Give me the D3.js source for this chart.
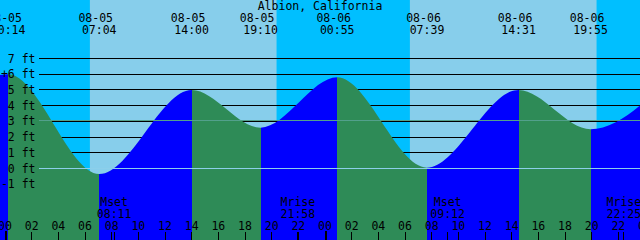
<!DOCTYPE html>
<html>
<head>
<meta charset="utf-8">
<script src="https://cdn.jsdelivr.net/npm/d3@7"></script>
<style>
html, body { margin: 0; padding: 0; background: #fff; }
svg { display: block; }
text { font-family: "DejaVu Sans Mono", monospace; font-size: 11.5px; fill: #000; }
</style>
</head>
<body>
<svg class="grafico" width="640" height="240"></svg>
<script>
const title = "Albion, California"

// pleamar / bajamar (incluye una antes y una despues de la ventana para la forma de la curva)
const tideTimes = ["08-04 18:20", "08-05 00:14", "08-05 07:04", "08-05 14:00", "08-05 19:10",
                   "08-06 00:55", "08-06 07:39", "08-06 14:31", "08-06 19:55", "08-07 01:35"]
const tideHeights = [2.5, 6.0, -0.35, 5.0, 2.6, 5.8, 0.05, 5.0, 2.5, 5.5]

const sunRise = ["08-05 06:22", "08-06 06:22"]
const sunSet = ["08-05 20:22", "08-06 20:22"]

const moonNames = ["Mset", "Mrise", "Mset", "Mrise"]
const moonTimes = ["08-05 08:11", "08-05 21:58", "08-06 09:12", "08-06 22:25"]

const feet = [-1, 0, 1, 2, 3, 4, 5, 6, 7]
const feetLabels = ["-1 ft", "0 ft", "1 ft", "2 ft", "3 ft", "4 ft", "5 ft", "+6 ft", "7 ft"]
const hourTicks = d3.range(0, 49, 2)
const msl = 3.05

// "08-05 07:04" -> horas desde 08-05 00:00
const hours = s => {
  const [md, hm] = s.split(" ")
  const day = +md.split("-")[1]
  const [h, m] = hm.split(":").map(Number)
  return (day - 5) * 24 + h + m / 60
}

const W = 640, H = 240
const x = d3.scaleLinear().domain([-0.375, 47.625]).range([0, W])
const y = d3.scaleLinear().domain([0, 7]).range([168.5, 58.5])
const snap = v => Math.round(v - 0.5) + 0.5

const tides = tideTimes.map((t, i) => ({ t: hours(t), h: tideHeights[i], label: t }))
const svg = d3.select('.grafico')

// cielo: noche de fondo, dia encima
svg.append('rect').attr('width', W).attr('height', H).attr('fill', '#00bfff')
svg.append('g').selectAll('rect')
  .data(sunRise.map((r, i) => [hours(r), hours(sunSet[i])]))
  .join('rect')
  .attr('x', d => x(d[0])).attr('width', d => x(d[1]) - x(d[0]))
  .attr('y', 0).attr('height', H)
  .attr('fill', '#87ceeb')

// lineas de pies (quedan tapadas por el agua)
svg.append('g').selectAll('line')
  .data(feet)
  .join('line')
  .attr('x1', 39).attr('x2', W)
  .attr('y1', d => snap(y(d))).attr('y2', d => snap(y(d)))
  .attr('stroke', '#000').attr('shape-rendering', 'crispEdges')

// agua: verde bajando, azul subiendo
const area = d3.area()
  .x(d => x(d.t)).y0(H).y1(d => y(d.h))
  .curve(d3.curveMonotoneX)

svg.append('defs').append('clipPath').attr('id', 'agua')
  .append('path').attr('d', area(tides))

svg.append('g').attr('clip-path', 'url(#agua)')
  .selectAll('rect')
  .data(d3.pairs(tides))
  .join('rect')
  .attr('x', d => x(d[0].t)).attr('width', d => x(d[1].t) - x(d[0].t))
  .attr('y', 0).attr('height', H)
  .attr('fill', d => d[1].h > d[0].h ? '#0000ff' : '#2e8b57')
  .attr('shape-rendering', 'crispEdges')

// nivel medio y datum
svg.append('line')
  .attr('x1', 39).attr('x2', W).attr('y1', snap(y(msl))).attr('y2', snap(y(msl)))
  .attr('stroke', '#52a08c').attr('shape-rendering', 'crispEdges')
svg.append('line')
  .attr('x1', 39).attr('x2', W).attr('y1', snap(y(0))).attr('y2', snap(y(0)))
  .attr('stroke', '#8ccfea').attr('shape-rendering', 'crispEdges')

// titulo
svg.append('text').attr('x', 320).attr('y', 10).attr('text-anchor', 'middle').text(title)

// etiquetas de pies
svg.append('g').selectAll('text')
  .data(feet)
  .join('text')
  .attr('x', 35.5).attr('y', d => y(d) + 4)
  .attr('text-anchor', 'end')
  .text((d, i) => feetLabels[i])

// fecha y hora de cada pleamar / bajamar visible
const visibles = tides.filter(d => d.t >= x.domain()[0] - 2 && d.t <= x.domain()[1])
const ev = svg.append('g').selectAll('g')
  .data(visibles)
  .join('g')
ev.append('text')
  .attr('x', d => x(d.t) - 3.5).attr('y', 22)
  .attr('text-anchor', 'middle')
  .text(d => d.label.split(" ")[0])
ev.append('text')
  .attr('x', d => x(d.t)).attr('y', 34)
  .attr('text-anchor', 'middle')
  .text(d => d.label.split(" ")[1])

// luna
const moon = moonTimes.map((t, i) => ({ t: hours(t), name: moonNames[i], label: t.split(" ")[1] }))
const lu = svg.append('g').selectAll('g').data(moon).join('g')
lu.append('text')
  .attr('x', d => x(d.t)).attr('y', 206)
  .attr('text-anchor', 'middle')
  .text(d => d.name)
lu.append('text')
  .attr('x', d => x(d.t)).attr('y', 218)
  .attr('text-anchor', 'middle')
  .text(d => d.label)
lu.append('line')
  .attr('x1', d => snap(x(d.t))).attr('x2', d => snap(x(d.t)))
  .attr('y1', 232).attr('y2', H)
  .attr('stroke', '#000').attr('shape-rendering', 'crispEdges')

// eje de horas
const hr = svg.append('g').selectAll('g').data(hourTicks).join('g')
hr.append('text')
  .attr('x', d => x(d)).attr('y', 230)
  .attr('text-anchor', 'middle')
  .text(d => d3.format("02")(d % 24))
hr.append('line')
  .attr('x1', d => d % 24 === 0 ? Math.round(x(d)) + 1 : snap(x(d)))
  .attr('x2', d => d % 24 === 0 ? Math.round(x(d)) + 1 : snap(x(d)))
  .attr('y1', d => d % 24 === 0 ? 231 : 232).attr('y2', H)
  .attr('stroke', '#000')
  .attr('stroke-width', d => d % 24 === 0 ? 2 : 1)
  .attr('shape-rendering', 'crispEdges')
</script>
</body>
</html>
